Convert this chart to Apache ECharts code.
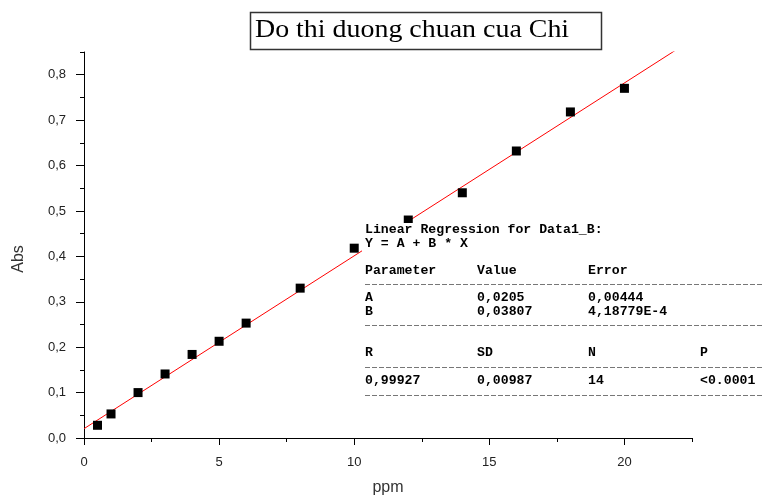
<!DOCTYPE html>
<html><head><meta charset="utf-8">
<script src="https://cdn.jsdelivr.net/npm/echarts@6/dist/echarts.min.js"></script>
<style>html,body{margin:0;padding:0;background:#fff}#c{width:762px;height:501px}</style>
</head><body><div id="c"></div>
<script>
// data
const ppm = [0.5, 1, 2, 3, 4, 5, 6, 8, 10, 12, 14, 16, 18, 20];
const absVals = [0.028, 0.053, 0.100, 0.141, 0.184, 0.213, 0.253, 0.330, 0.418, 0.480, 0.540, 0.632, 0.718, 0.770];
const fitA = 0.0205;
const fitB = 0.03807;
const xMin = 0, xMax = 22.5;
const yMin = 0, yMax = 0.85;
const xMajorTicks = [0, 5, 10, 15, 20];
const xMinorTicks = [2.5, 7.5, 12.5, 17.5, 22.5];
const yMajorTicks = [0, 0.1, 0.2, 0.3, 0.4, 0.5, 0.6, 0.7, 0.8];
const yMinorTicks = [0.05, 0.15, 0.25, 0.35, 0.45, 0.55, 0.65, 0.75, 0.85];
const yTickLabels = ['0,0', '0,1', '0,2', '0,3', '0,4', '0,5', '0,6', '0,7', '0,8'];
const titleText = 'Do thi duong chuan cua Chi';
const regHeader = ['Linear Regression for Data1_B:', 'Y = A + B * X'];
const paramRows = [['Parameter', 'Value', 'Error'], ['A', '0,0205', '0,00444'], ['B', '0,03807', '4,18779E-4']];
const statRows = [['R', 'SD', 'N', 'P'], ['0,99927', '0,00987', '14', '<0.0001']];

const fitLine = [[xMin, fitA + fitB * xMin], [xMax, fitA + fitB * xMax]];

const chart = echarts.init(document.getElementById('c'), null, {renderer: 'canvas'});

const monoFont = {fontFamily: 'Liberation Mono', fontWeight: 'bold', fontSize: 13, fill: '#000'};
const colX = [365, 477, 588, 700];
const graphics = [];
// title box
graphics.push({type: 'rect', shape: {x: 250.5, y: 12.5, width: 351, height: 37}, style: {fill: '#fff', stroke: '#333', lineWidth: 1.5}, z: 100});
graphics.push({type: 'text', x: 255, y: 30, scaleX: 1.117, style: {text: titleText, font: '25px "Liberation Serif"', fill: '#000', textVerticalAlign: 'middle'}, z: 101});
// regression box
graphics.push({type: 'rect', shape: {x: 362, y: 223, width: 400, height: 180}, style: {fill: '#fff'}, z: 100});
const addText = (t, x, y) => graphics.push({type: 'text', x: x, y: y, scaleX: 1.015, style: Object.assign({text: t, textVerticalAlign: 'middle'}, monoFont), z: 101});
const addDash = (y) => graphics.push({type: 'line', shape: {x1: 365, y1: y, x2: 762, y2: y}, style: {stroke: '#777', lineWidth: 1, lineDash: [5, 2]}, z: 101});
addText(regHeader[0], 365, 230);
addText(regHeader[1], 365, 244);
const pY = [271, 298, 312];
paramRows.forEach((r, i) => r.forEach((t, j) => addText(t, colX[j], pY[i])));
const sY = [353, 381];
statRows.forEach((r, i) => r.forEach((t, j) => addText(t, colX[j], sY[i])));
[284.5, 325.5, 367.5, 395.5].forEach(addDash);
// y axis name
graphics.push({type: 'text', x: 19, y: 259, rotation: Math.PI / 2, style: {text: 'Abs', font: '16px "Liberation Sans"', fill: '#333', textAlign: 'center', textVerticalAlign: 'middle'}, z: 101});

const labelFont = {fontFamily: 'Liberation Sans', fontSize: 13, color: '#222'};
const option = {
  animation: false,
  backgroundColor: '#fff',
  grid: {left: 84, right: 70, top: 52, bottom: 59},
  xAxis: [{
    type: 'value', min: xMin, max: xMax,
    name: 'ppm', nameLocation: 'middle', nameGap: 42,
    nameTextStyle: {fontFamily: 'Liberation Sans', fontSize: 16, color: '#333'},
    axisLine: {show: true, lineStyle: {color: '#000', width: 1}},
    axisTick: {show: true, length: 7, customValues: xMajorTicks, lineStyle: {color: '#000'}},
    axisLabel: Object.assign({margin: 18, customValues: xMajorTicks, formatter: v => String(v)}, labelFont),
    splitLine: {show: false}
  }, {
    type: 'value', min: xMin, max: xMax, position: 'bottom', offset: 0,
    axisLine: {show: false},
    axisTick: {show: true, length: 4, customValues: xMinorTicks, lineStyle: {color: '#000'}},
    axisLabel: {show: false},
    splitLine: {show: false}
  }],
  yAxis: [{
    type: 'value', min: yMin, max: yMax,
    axisLine: {show: true, lineStyle: {color: '#000', width: 1}},
    axisTick: {show: true, length: 8, customValues: yMajorTicks, lineStyle: {color: '#000'}},
    axisLabel: Object.assign({margin: 18, customValues: yMajorTicks,
      formatter: v => yTickLabels[yMajorTicks.findIndex(t => Math.abs(t - v) < 1e-9)] || ''}, labelFont),
    splitLine: {show: false}
  }, {
    type: 'value', min: yMin, max: yMax, position: 'left', offset: 0,
    axisLine: {show: false},
    axisTick: {show: true, length: 4, customValues: yMinorTicks, lineStyle: {color: '#000'}},
    axisLabel: {show: false},
    splitLine: {show: false}
  }],
  series: [
    {type: 'line', data: fitLine, showSymbol: false, symbol: 'none', clip: true,
      lineStyle: {color: '#ff0000', width: 1}, z: 2},
    {type: 'scatter', data: ppm.map((x, i) => [x, absVals[i]]), symbol: 'rect', symbolSize: 9,
      itemStyle: {color: '#000', opacity: 1}, z: 3}
  ],
  graphic: graphics
};
chart.setOption(option);
</script></body></html>
